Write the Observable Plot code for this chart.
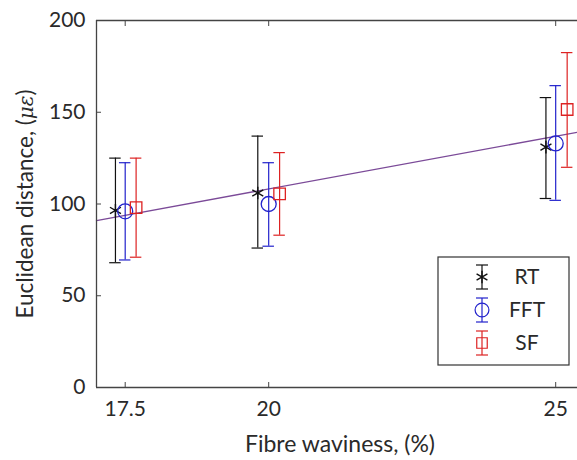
<!DOCTYPE html>
<html><head><meta charset="utf-8">
<script src="https://cdn.jsdelivr.net/npm/d3@7"></script>
<script src="https://cdn.jsdelivr.net/npm/@observablehq/plot@0.6"></script>
<style>body{margin:0;background:#fff;} svg{font-family:Lato,sans-serif;}</style>
</head><body><div id="chart"></div>
<script>
const series = ["RT","FFT","SF"];
const colors = ["#111111","#2222cc","#dd2222"];
const xPos = {
  RT:  [17.33, 19.81, 24.83],
  FFT: [17.5, 20.0, 25.0],
  SF:  [17.69, 20.19, 25.2]
};
const mean = {
  RT:  [96.5, 106, 131],
  FFT: [96, 100, 133],
  SF:  [98, 105.5, 151.5]
};
const upper = {
  RT:  [125, 137, 158],
  FFT: [122.5, 122.5, 164.5],
  SF:  [125, 128, 182.5]
};
const lower = {
  RT:  [68, 76, 103],
  FFT: [69.5, 77, 102],
  SF:  [71, 83, 120]
};
const xTicks = [17.5, 20, 25];
const yTicks = [0, 50, 100, 150, 200];
const fitX = [17, 25.4];
const fitY = [91, 139.2];

const rows = [];
series.forEach((s, i) => xPos[s].forEach((x, j) => rows.push({s, i, x, m: mean[s][j], lo: lower[s][j], hi: upper[s][j]})));
const fit = fitX.map((x, k) => ({x, y: fitY[k]}));
const cap = 0.1;

const W = 577, H = 460;
const plot = Plot.plot({
  width: W, height: H,
  marginLeft: 96, marginRight: 0, marginTop: 20, marginBottom: 73,
  x: {domain: [17, 25.38], label: null},
  y: {domain: [0, 200], label: null},
  style: {fontFamily: "Lato, sans-serif", color: "#2a2a2a"},
  marks: [
    Plot.line(fit, {x: "x", y: "y", stroke: "#7b4a98", strokeWidth: 1.3}),
    Plot.ruleX(rows, {x: "x", y1: "lo", y2: "hi", stroke: d => colors[d.i], strokeWidth: 1.2}),
    Plot.ruleY(rows, {y: "hi", x1: d => d.x - cap, x2: d => d.x + cap, stroke: d => colors[d.i], strokeWidth: 1.2}),
    Plot.ruleY(rows, {y: "lo", x1: d => d.x - cap, x2: d => d.x + cap, stroke: d => colors[d.i], strokeWidth: 1.2}),
    Plot.dot(rows.filter(d => d.s === "RT"), {x: "x", y: "m", symbol: "asterisk", r: 6, stroke: colors[0], strokeWidth: 1.4}),
    Plot.dot(rows.filter(d => d.s === "FFT"), {x: "x", y: "m", symbol: "circle", r: 7.5, stroke: colors[1], fill: "none", strokeWidth: 1.3}),
    Plot.dot(rows.filter(d => d.s === "SF"), {x: "x", y: "m", symbol: "square", r: 6.5, stroke: colors[2], fill: "none", strokeWidth: 1.3}),
    Plot.axisX({ticks: xTicks, tickFormat: d => String(d), tickSize: -5, tickPadding: 19, fontSize: 21, label: null, stroke: "#444"}),
    Plot.axisX({anchor: "top", ticks: xTicks, tickSize: -5, tickFormat: () => "", label: null, stroke: "#444"}),
    Plot.axisY({ticks: yTicks, tickSize: -5, tickPadding: 16, fontSize: 21, label: null, stroke: "#444"}),
    Plot.ruleX([17], {stroke: "#444", strokeWidth: 1.3}),
    Plot.ruleY([0], {stroke: "#444", strokeWidth: 1.3}),
    Plot.ruleY([200], {stroke: "#444", strokeWidth: 1.3})
  ]
});
document.getElementById("chart").appendChild(plot);

const svg = d3.select(plot);
svg.append("text").attr("x", 340).attr("y", 452).attr("text-anchor", "middle")
  .attr("font-size", 23).attr("fill", "#2a2a2a").text("Fibre waviness, (%)");
const yl = svg.append("text").attr("transform", "translate(33,204) rotate(-90)")
  .attr("text-anchor", "middle").attr("font-size", 22.5).attr("fill", "#2a2a2a");
yl.append("tspan").text("Euclidean distance, (");
yl.append("tspan").attr("font-style", "italic").attr("font-family", "DejaVu Serif, serif").attr("font-size", 20).text("με");
yl.append("tspan").text(")");

const lg = svg.append("g");
lg.append("rect").attr("x", 438).attr("y", 257).attr("width", 131).attr("height", 108)
  .attr("fill", "#fff").attr("stroke", "#333").attr("stroke-width", 1.2);
series.forEach((s, i) => {
  const cy = 277 + i * 33, cx = 482, c = colors[i];
  const g = lg.append("g").attr("stroke", c).attr("fill", "none").attr("stroke-width", 1.2);
  g.append("line").attr("x1", cx).attr("x2", cx).attr("y1", cy - 12).attr("y2", cy + 12);
  g.append("line").attr("x1", cx - 6).attr("x2", cx + 6).attr("y1", cy - 12).attr("y2", cy - 12);
  g.append("line").attr("x1", cx - 6).attr("x2", cx + 6).attr("y1", cy + 12).attr("y2", cy + 12);
  const sym = d3.symbol().type([d3.symbolAsterisk, d3.symbolCircle, d3.symbolSquare][i]).size(i === 0 ? 110 : i === 1 ? 150 : 110);
  g.append("path").attr("transform", `translate(${cx},${cy})`).attr("d", sym()).attr("stroke-width", i === 0 ? 1.4 : 1.2);
  lg.append("text").attr("x", 527).attr("y", cy).attr("dy", "0.35em").attr("font-size", 21).attr("fill", "#2a2a2a").text(s);
});
</script></body></html>
